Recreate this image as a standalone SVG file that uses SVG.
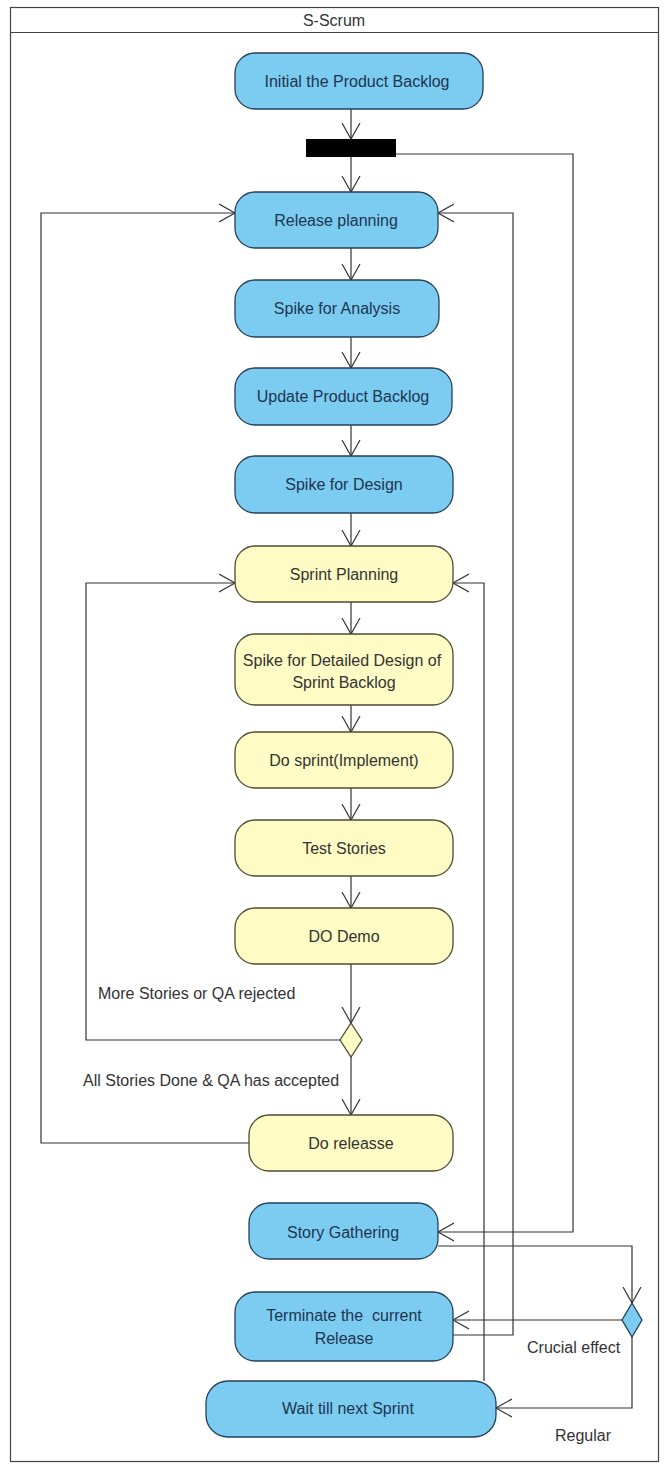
<svg xmlns="http://www.w3.org/2000/svg" width="664" height="1465" viewBox="0 0 664 1465">
<style>
text{font-family:"Liberation Sans",Arial,sans-serif;font-size:16px}
.blue rect{fill:#7ccbf1;stroke:#24405a;stroke-width:1.3}
.blue text{fill:#1c3650;text-anchor:middle}
.yel rect{fill:#fffbc4;stroke:#4d4b32;stroke-width:1.3}
.yel text{fill:#333;text-anchor:middle}
.edge{fill:none;stroke:#333;stroke-width:1.2}
.lbl{fill:#333}
</style>
<defs>
<marker id="arr" viewBox="0 0 18 20" markerUnits="userSpaceOnUse" markerWidth="18" markerHeight="20" refX="16" refY="10" orient="auto">
<path d="M0,1 L16,10 L0,19" fill="none" stroke="#333" stroke-width="1.2"/>
</marker>
</defs>
<rect x="0" y="0" width="664" height="1465" fill="#fff"/>
<g id="frame">
<rect x="10.5" y="7.5" width="648" height="1454" fill="none" stroke="#444" stroke-width="1.2"/>
<line x1="10.5" y1="32.5" x2="658.5" y2="32.5" stroke="#444" stroke-width="1.2"/>
<text x="334" y="26" text-anchor="middle" fill="#333">S-Scrum</text>
</g>
<g id="connectors">
<path class="edge" d="M351,109 V139" marker-end="url(#arr)"/>
<path class="edge" d="M351,157 V192" marker-end="url(#arr)"/>
<path class="edge" d="M351,248 V280" marker-end="url(#arr)"/>
<path class="edge" d="M351,337 V368" marker-end="url(#arr)"/>
<path class="edge" d="M351,425 V456" marker-end="url(#arr)"/>
<path class="edge" d="M351,513 V546" marker-end="url(#arr)"/>
<path class="edge" d="M351,602 V634" marker-end="url(#arr)"/>
<path class="edge" d="M351,705 V732" marker-end="url(#arr)"/>
<path class="edge" d="M351,788 V820" marker-end="url(#arr)"/>
<path class="edge" d="M351,876 V908" marker-end="url(#arr)"/>
<path class="edge" d="M351,964 V1023" marker-end="url(#arr)"/>
<path class="edge" d="M351,1057 V1115" marker-end="url(#arr)"/>
<path class="edge" d="M341,1040 H86 V583 H235" marker-end="url(#arr)"/>
<path class="edge" d="M249,1143 H41 V213 H235" marker-end="url(#arr)"/>
<path class="edge" d="M396,154 H573 V1232 H438" marker-end="url(#arr)"/>
<path class="edge" d="M438,1246 H632 V1303" marker-end="url(#arr)"/>
<path class="edge" d="M622,1320 H453" marker-end="url(#arr)"/>
<path class="edge" d="M632,1337 V1408 H496" marker-end="url(#arr)"/>
<path class="edge" d="M453,1335 H513 V213 H438" marker-end="url(#arr)"/>
<path class="edge" d="M484,1381 V583 H453" marker-end="url(#arr)"/>
</g>
<g id="initial" class="blue"><rect x="235" y="53" width="248" height="56" rx="20"/><text x="357" y="87">Initial the Product Backlog</text></g>
<g id="fork"><rect x="306" y="139" width="90" height="18" fill="#000"/></g>
<g id="release-planning" class="blue"><rect x="235" y="192" width="203" height="56" rx="20"/><text x="336" y="226">Release planning</text></g>
<g id="spike-analysis" class="blue"><rect x="235" y="280" width="204" height="57" rx="20"/><text x="337" y="314">Spike for Analysis</text></g>
<g id="update-backlog" class="blue"><rect x="235" y="368" width="217" height="57" rx="20"/><text x="343" y="402">Update Product Backlog</text></g>
<g id="spike-design" class="blue"><rect x="235" y="456" width="218" height="57" rx="20"/><text x="344" y="490">Spike for Design</text></g>
<g id="sprint-planning" class="yel"><rect x="235" y="546" width="218" height="56" rx="20"/><text x="344" y="580">Sprint Planning</text></g>
<g id="spike-detailed" class="yel"><rect x="235" y="634" width="218" height="71" rx="20"/><text x="342" y="666">Spike for Detailed Design of</text><text x="344" y="688">Sprint Backlog</text></g>
<g id="do-sprint" class="yel"><rect x="235" y="732" width="218" height="56" rx="20"/><text x="344" y="766">Do sprint(Implement)</text></g>
<g id="test-stories" class="yel"><rect x="235" y="820" width="218" height="56" rx="20"/><text x="344" y="854">Test Stories</text></g>
<g id="do-demo" class="yel"><rect x="235" y="908" width="218" height="56" rx="20"/><text x="344" y="942">DO Demo</text></g>
<g id="decision1"><polygon points="351,1023 362,1040 351,1057 340,1040" fill="#fffbc4" stroke="#4d4b32" stroke-width="1.3"/></g>
<g id="labels">
<text class="lbl" x="98" y="999">More Stories or QA rejected</text>
<text class="lbl" x="83" y="1086">All Stories Done &amp; QA has accepted</text>
<text class="lbl" x="527" y="1353">Crucial effect</text>
<text class="lbl" x="555" y="1441">Regular</text>
</g>
<g id="do-release" class="yel"><rect x="249" y="1115" width="204" height="56" rx="20"/><text x="351" y="1149">Do releasse</text></g>
<g id="story-gathering" class="blue"><rect x="249" y="1203" width="189" height="56" rx="20"/><text x="343" y="1238">Story Gathering</text></g>
<g id="terminate" class="blue"><rect x="235" y="1292" width="218" height="69" rx="20"/><text x="344" y="1321" xml:space="preserve">Terminate the  current</text><text x="344" y="1344">Release</text></g>
<g id="wait" class="blue"><rect x="206" y="1381" width="290" height="56" rx="22"/><text x="348" y="1414">Wait till next Sprint</text></g>
<g id="decision2"><polygon points="632,1303 642,1320 632,1337 622,1320" fill="#7ccbf1" stroke="#24405a" stroke-width="1.3"/></g>
</svg>
